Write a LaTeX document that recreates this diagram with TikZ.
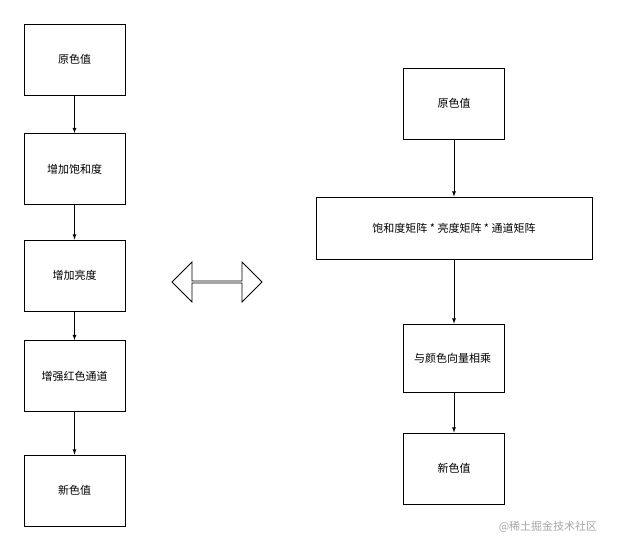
\documentclass[tikz,border=0pt]{standalone}
\usepackage{fontspec}
\setmainfont{Noto Sans CJK SC}
\usetikzlibrary{shapes.arrows}
\tikzstyle{block} = [rectangle, draw, thick, fill=white, minimum width=101pt, minimum height=71pt, font=\fontsize{11}{14}\selectfont]
\tikzstyle{line} = [draw, thick, -latex]
\begin{document}
\begin{tikzpicture} [x=1pt, y=-1pt]
\useasboundingbox (0,0) rectangle (617,550);
% Left column
\node [block] (orig) at (74.5,59.5) {原色值};
\node [block] (sat) at (74.5,169) {增加饱和度};
\node [block] (bright) at (74.5,275.5) {增加亮度};
\node [block] (red) at (74.5,376) {增强红色通道};
\node [block] (new) at (74.5,490.5) {新色值};
% Right column
\node [block] (rorig) at (454,103.5) {原色值};
\node [block, minimum width=276pt, minimum height=62pt] (matrix) at (454,228) {饱和度矩阵 * 亮度矩阵 * 通道矩阵};
\node [block, minimum height=68pt, text width=80pt, align=left] (mul) at (454,358) {与颜色向量相乘};
\node [block] (rnew) at (454,468.5) {新色值};
% Middle
\node [draw, thick, double arrow, minimum width=40pt, minimum height=90pt, double arrow head extend=8pt, inner sep=0pt] (equiv) at (217,282) {};
\node [text=gray!70, font=\fontsize{11}{13}\selectfont] (mark) at (548,527) {@稀土掘金技术社区};
% Draw edges
\path [line] (orig) -- (sat);
\path [line] (sat) -- (bright);
\path [line] (bright) -- (red);
\path [line] (red) -- (new);
\path [line] (rorig) -- (matrix);
\path [line] (matrix) -- (mul);
\path [line] (mul) -- (rnew);

\end{tikzpicture}
\end{document}
